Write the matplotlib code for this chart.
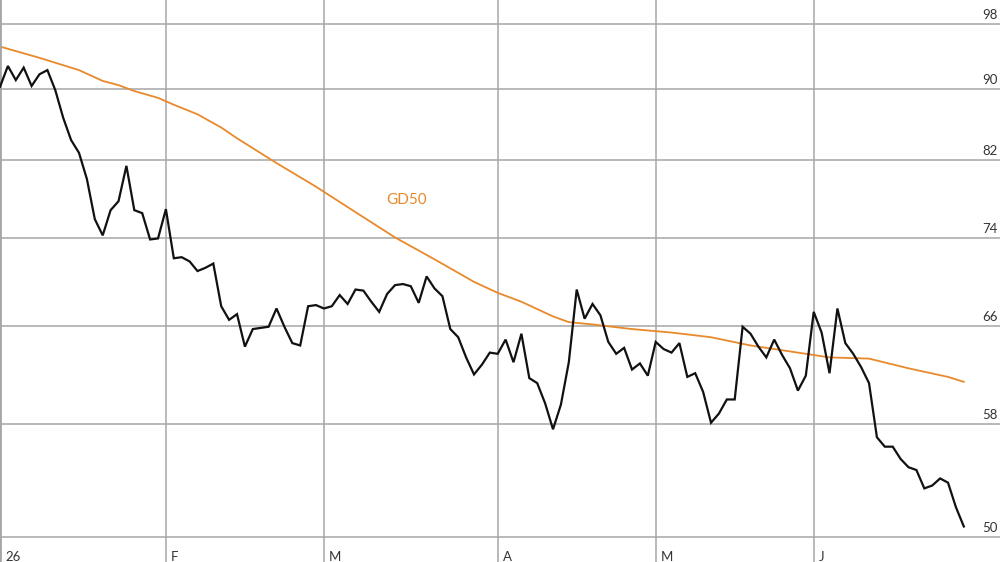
import matplotlib
matplotlib.use("Agg")
import matplotlib.pyplot as plt
import matplotlib.transforms as mtransforms

# daily closes, trading days from 2 Jan 2026
close = [
    90.3, 92.8, 91.1, 92.6, 90.4, 91.8, 92.3, 89.9, 86.7, 84.2,
    82.8, 80.0, 75.9, 74.3, 76.8, 77.7, 81.4, 76.8, 76.5, 73.9,
    74.0, 76.9, 72.1, 72.2, 71.8, 70.9, 71.2, 71.6, 67.7, 66.5,
    67.0, 64.2, 65.7, 65.8, 65.9, 67.5, 65.9, 64.5, 64.3, 67.7,
    67.8, 67.5, 67.7, 68.7, 67.9, 69.2, 69.1, 68.1, 67.2, 68.8,
    69.6, 69.7, 69.5, 68.0, 70.4, 69.3, 68.6, 65.7, 65.0, 63.3,
    61.9, 62.7, 63.7, 63.6, 64.8, 62.9, 65.3, 61.6, 61.2, 59.6,
    57.6, 59.5, 62.9, 69.2, 66.6, 67.9, 66.9, 64.6, 63.6, 64.1,
    62.3, 62.8, 61.8, 64.6, 64.0, 63.7, 64.5, 61.7, 62.0, 60.5,
    58.1, 58.8, 59.9, 59.9, 65.9, 65.3, 64.2, 63.3, 64.8, 63.5,
    62.4, 60.6, 61.8, 67.2, 65.4, 62.0, 67.5, 64.5, 63.6, 62.5,
    61.2, 57.0, 56.3, 56.3, 55.4, 54.8, 54.6, 53.3, 53.5, 54.0,
    53.7, 52.0, 50.7,
]

gd50_day = [0, 5, 10, 13, 15, 17, 20, 22, 25, 28, 30, 35, 40, 45, 50, 55, 60,
            63, 66, 70, 72, 75, 80, 85, 90, 95, 100, 105, 110, 115, 120, 122]
gd50 = [95.2, 93.8, 92.3, 91.0, 90.5, 89.8, 89.0, 88.2, 87.1, 85.6, 84.4, 81.7,
        79.2, 76.6, 74.1, 72.0, 69.9, 68.9, 68.1, 66.8, 66.3, 66.1, 65.7, 65.4,
        65.0, 64.3, 63.8, 63.3, 63.2, 62.4, 61.7, 61.3]

month_start = [0, 21, 41, 63, 83, 103]
month_labels = ["26", "F", "M", "A", "M", "J"]
price_ticks = [50, 58, 66, 74, 82, 90, 98]

GRID = "#a6a6a6"
TEXT = "#333333"
ORANGE = "#e8892b"

plt.rcParams['font.family'] = ['Lato', 'DejaVu Sans']

fig = plt.figure(figsize=(10, 5.62), dpi=100)
ax = fig.add_axes([0, 0, 1, 1])
ax.set_yscale('log')
ax.set_ylim(48.39, 101.2)
ax.set_xlim(0, 126.58)
ax.set_xticks([])
ax.set_yticks([])
ax.minorticks_off()
for s in ['top', 'right', 'bottom']:
    ax.spines[s].set_visible(False)
ax.spines['left'].set_color(GRID)
ax.spines['left'].set_linewidth(2)

for p in price_ticks:
    ax.axhline(p, color=GRID, lw=1.1, zorder=1)
for m in month_start[1:]:
    ax.axvline(m, color=GRID, lw=1.1, zorder=1)

ax.plot(gd50_day, gd50, color=ORANGE, lw=1.3, zorder=2)
ax.plot(range(len(close)), close, color="#111111", lw=1.6, zorder=3,
        solid_joinstyle='miter')

# price labels on the right, just above each grid line
ytrans = mtransforms.blended_transform_factory(ax.transAxes, ax.transData)
ytrans = mtransforms.offset_copy(ytrans, fig=fig, x=-2, y=5, units='dots')
for p in price_ticks:
    ax.text(1.0, p, str(p), transform=ytrans, ha='right', va='baseline',
            fontsize=9.5, color=TEXT)

# month labels at the bottom
xtrans = mtransforms.blended_transform_factory(ax.transData, ax.transAxes)
xtrans = mtransforms.offset_copy(xtrans, fig=fig, x=5, y=1, units='dots')
for m, lab in zip(month_start, month_labels):
    ax.text(m, 0, lab, transform=xtrans, ha='left', va='baseline',
            fontsize=9.5, color=TEXT)

ax.text(51.5, 77.8, "GD50", ha='center', va='center', fontsize=11, color=ORANGE)

fig.savefig("out.png", dpi=100)
